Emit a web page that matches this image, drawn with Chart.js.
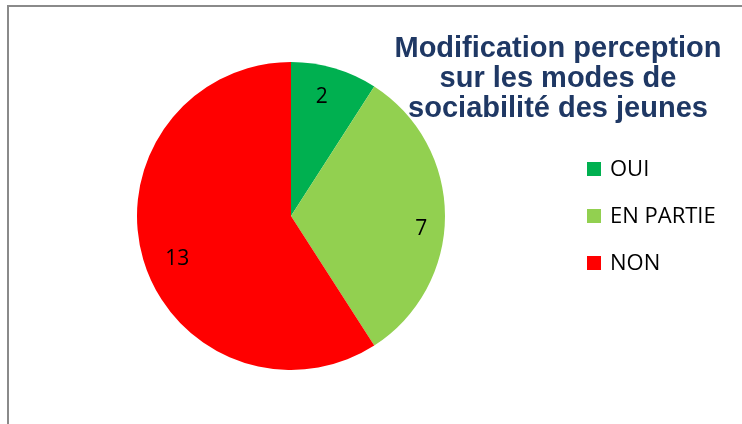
<!DOCTYPE html>
<html lang="fr">
<head>
<meta charset="UTF-8">
<title>Modification perception</title>
<script src="https://cdn.jsdelivr.net/npm/chart.js"></script>
<style>
    body { margin: 0; background: #fff; }
    canvas { display: block; }
</style>
</head>
<body>
<canvas id="myChart" width="742" height="424"></canvas>
<script>
    const labels = ['OUI', 'EN PARTIE', 'NON'];
    const values = [2, 7, 13];
    const colors = ['#00B050', '#92D050', '#FF0000'];
    const titleLines = ['Modification perception', 'sur les modes de', 'sociabilité des jeunes'];

    // frame, title, legend and value labels drawn on the canvas
    const decor = {
        id: 'decor',
        beforeDraw(chart) {
            const c = chart.ctx;
            c.save();
            c.fillStyle = '#fff';
            c.fillRect(0, 0, chart.width, chart.height);
            c.strokeStyle = '#8a8a8a';
            c.lineWidth = 2;
            c.beginPath();
            c.moveTo(8, chart.height);
            c.lineTo(8, 6);
            c.lineTo(chart.width, 6);
            c.stroke();
            c.restore();
        },
        afterDraw(chart, args, opts) {
            const c = chart.ctx;
            c.save();
            // title
            c.fillStyle = '#1F3864';
            c.font = 'bold 29px "Liberation Sans", Arial, sans-serif';
            c.textAlign = 'center';
            c.textBaseline = 'alphabetic';
            titleLines.forEach((t, i) => c.fillText(t, 558, 57 + i * 30));

            // legend
            c.font = '22px "Open Sans", sans-serif';
            c.textAlign = 'left';
            c.textBaseline = 'middle';
            labels.forEach((l, i) => {
                const y = 169 + i * 47;
                c.fillStyle = colors[i];
                c.fillRect(587, y - 7, 14, 14);
                c.fillStyle = '#000';
                c.fillText(l, 610, y + 1);
            });

            // value labels
            const meta = chart.getDatasetMeta(0);
            c.font = '21px "Open Sans", sans-serif';
            c.textAlign = 'center';
            c.fillStyle = '#000';
            meta.data.forEach((arc, i) => {
                const p = arc.getProps(['x', 'y', 'startAngle', 'endAngle', 'outerRadius'], true);
                const a = p.startAngle + opts.along[i] * (p.endAngle - p.startAngle);
                const r = p.outerRadius * opts.radial[i];
                c.fillText(values[i], p.x + Math.cos(a) * r, p.y + Math.sin(a) * r);
            });
            c.restore();
        }
    };

    const ctx = document.getElementById('myChart').getContext('2d');
    const myChart = new Chart(ctx, {
        type: 'pie',
        data: {
            labels: labels,
            datasets: [{
                data: values,
                backgroundColor: colors,
                borderWidth: 0
            }]
        },
        options: {
            responsive: false,
            animation: false,
            layout: {
                padding: { left: 137, top: 62, right: 297, bottom: 54 }
            },
            plugins: {
                legend: { display: false },
                tooltip: { enabled: false },
                decor: {
                    along: [0.44, 0.55, 0.48],
                    radial: [0.80, 0.85, 0.79]
                }
            }
        },
        plugins: [decor]
    });
</script>
</body>
</html>
